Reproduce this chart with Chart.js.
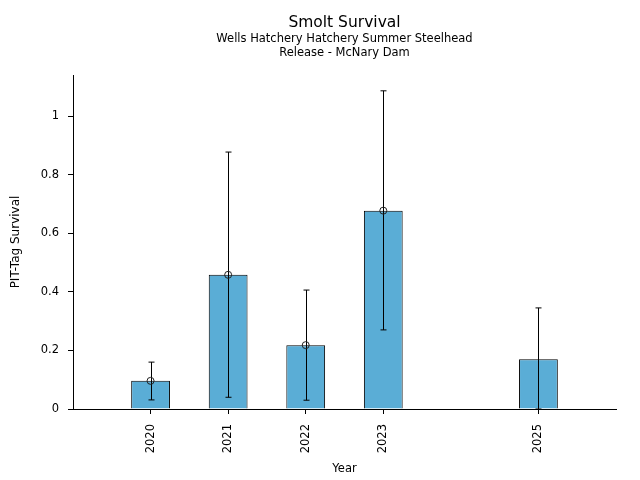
<!DOCTYPE html>
<html>
<head>
<meta charset="utf-8">
<title>Smolt Survival</title>
<script src="https://cdn.jsdelivr.net/npm/chart.js@4.4.1/dist/chart.umd.min.js"></script>
<style>
  html, body { margin: 0; padding: 0; background: #fff; }
  #wrap { width: 640px; height: 480px; }
</style>
</head>
<body>
<div id="wrap"><canvas id="chart" width="640" height="480"></canvas></div>
<script>
// data
const years = [2020, 2021, 2022, 2023, 2025];
const survival = [0.096, 0.458, 0.218, 0.677, 0.170];
const pointEst = [0.096, 0.458, 0.218, 0.677, null]; // no marker on 2025
const ciLow = [0.031, 0.040, 0.030, 0.270, 0.0];
const ciHigh = [0.160, 0.877, 0.406, 1.086, 0.345];
const yTicks = [0, 0.2, 0.4, 0.6, 0.8, 1];

const font = 'DejaVu Sans';

// error bars drawn right after the bars, through the chart scales
const errorBars = {
    id: 'errorBars',
    afterDatasetDraw(chart, args) {
        if (args.index !== 0) return;
        const ctx = chart.ctx;
        const xs = chart.scales.x;
        const ys = chart.scales.y;
        ctx.save();
        ctx.strokeStyle = '#000';
        ctx.lineWidth = 1;
        years.forEach((yr, i) => {
            const x = Math.round(xs.getPixelForValue(yr)) + 0.5;
            const yLo = ys.getPixelForValue(ciLow[i]);
            const yHi = ys.getPixelForValue(ciHigh[i]);
            ctx.beginPath();
            ctx.moveTo(x, yLo);
            ctx.lineTo(x, yHi);
            ctx.moveTo(x - 3, yLo);
            ctx.lineTo(x + 3, yLo);
            ctx.moveTo(x - 3, yHi);
            ctx.lineTo(x + 3, yHi);
            ctx.stroke();
        });
        ctx.restore();
    }
};

new Chart(document.getElementById('chart'), {
    type: 'bar',
    data: {
        datasets: [{
            label: 'Survival',
            data: years.map((yr, i) => ({ x: yr, y: survival[i] })),
            backgroundColor: '#5aadd6',
            borderColor: '#000',
            borderWidth: 1,
            barPercentage: 0.5,
            categoryPercentage: 1.0,
            order: 2
        }, {
            type: 'line',
            label: 'Estimate',
            data: years.map((yr, i) => ({ x: yr, y: pointEst[i] })),
            showLine: false,
            pointStyle: 'circle',
            pointRadius: 3.5,
            pointBorderWidth: 1,
            pointBorderColor: '#222',
            pointBackgroundColor: 'rgba(0,0,0,0)',
            order: 1
        }]
    },
    options: {
        responsive: false,
        animation: false,
        layout: { padding: { top: 0, right: 24, bottom: 0, left: 1 } },
        plugins: {
            legend: { display: false },
            tooltip: { enabled: false },
            title: {
                display: true,
                text: 'Smolt Survival',
                fullSize: false,
                color: '#000',
                font: { family: font, size: 15.5, weight: 'normal', lineHeight: 1.2 },
                padding: { top: 13.5, bottom: 0 }
            },
            subtitle: {
                display: true,
                text: ['Wells Hatchery Hatchery Summer Steelhead', 'Release - McNary Dam'],
                fullSize: false,
                color: '#000',
                font: { family: font, size: 11.5, lineHeight: 1.2 },
                padding: { top: 0.5, bottom: 14.8 }
            }
        },
        scales: {
            x: {
                type: 'linear',
                min: 2019,
                max: 2026,
                offset: false,
                afterBuildTicks(scale) {
                    scale.ticks = years.map(v => ({ value: v }));
                },
                afterFit(scale) { scale.height = 71; },
                border: { display: true, color: '#000', width: 1 },
                grid: { display: true, drawOnChartArea: false, drawTicks: true, tickLength: 5, color: '#000', offset: false },
                ticks: {
                    color: '#000',
                    font: { family: font, size: 11.5 },
                    minRotation: 90,
                    maxRotation: 90,
                    padding: 10,
                    autoSkip: false,
                    callback: v => String(v)
                },
                title: {
                    display: true,
                    text: 'Year',
                    color: '#000',
                    font: { family: font, size: 11.5, lineHeight: 1.2 },
                    padding: { top: 0, bottom: 4.1 }
                }
            },
            y: {
                type: 'linear',
                min: 0,
                max: 1.14,
                afterBuildTicks(scale) {
                    scale.ticks = yTicks.map(v => ({ value: v }));
                },
                afterFit(scale) { scale.width = 72; },
                border: { display: true, color: '#000', width: 1 },
                grid: { display: true, drawOnChartArea: false, drawTicks: true, tickLength: 5, color: '#000' },
                ticks: {
                    color: '#000',
                    font: { family: font, size: 11.5 },
                    padding: 9,
                    callback: v => String(v)
                },
                title: {
                    display: true,
                    text: 'PIT-Tag Survival',
                    color: '#000',
                    font: { family: font, size: 12, lineHeight: 1.2 },
                    padding: { top: 7.8, bottom: 0 }
                }
            }
        }
    },
    plugins: [errorBars]
});
</script>
</body>
</html>
